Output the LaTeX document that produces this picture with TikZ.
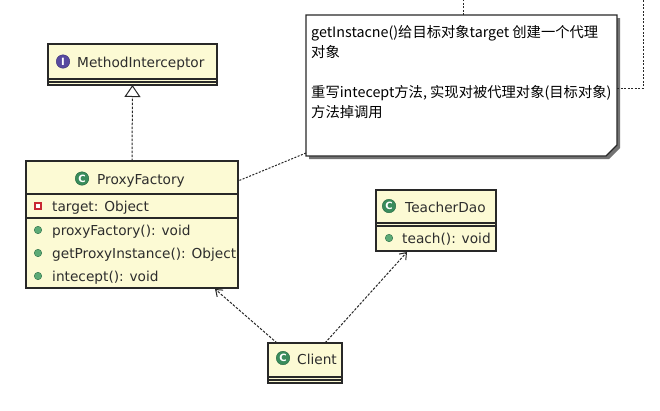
\documentclass[tikz,border=0pt]{standalone}
\usepackage{fontspec}
\setmainfont{DejaVu Sans}
\newfontfamily\cjk{Noto Sans CJK SC}
\usetikzlibrary{arrows.meta,calc}
\definecolor{clsfill}{RGB}{252,250,212}
\definecolor{linec}{RGB}{40,40,40}
\definecolor{textc}{RGB}{45,45,45}
\definecolor{iconG}{RGB}{58,140,92}
\definecolor{iconGd}{RGB}{30,100,60}
\definecolor{iconP}{RGB}{88,74,160}
\definecolor{iconPd}{RGB}{60,50,120}
\definecolor{dotG}{RGB}{92,170,118}
\definecolor{dotGd}{RGB}{40,110,70}
\definecolor{attrR}{RGB}{200,40,50}
\tikzset{
  clsbox/.style={draw=linec, fill=clsfill, line width=1.1pt, inner sep=0, outer sep=0, anchor=north west},
  ctext/.style={anchor=base west, inner sep=0, text=textc, font=\fontsize{13.7}{16}\selectfont},
  ntext/.style={anchor=base west, inner sep=0, text=black, font=\cjk\fontsize{14.3}{20}\selectfont},
  cicon/.style={circle, fill=iconG, draw=iconGd, text=white, inner sep=0, minimum size=13.5pt, font=\bfseries\fontsize{10}{10}\selectfont},
  iicon/.style={circle, fill=iconP, draw=iconPd, text=white, inner sep=0, minimum size=13.5pt, font=\bfseries\fontsize{10}{10}\selectfont},
  mdot/.style={circle, fill=dotG, draw=dotGd, minimum size=7.5pt, inner sep=0},
  attrbox/.style={rectangle, draw=attrR, fill=white, minimum size=6pt, line width=1.3pt, inner sep=0},
  sepline/.style={draw=linec, line width=1.1pt},
  deplink/.style={draw=linec, dash pattern=on 2.5pt off 1.5pt, line width=1pt, -{Straight Barb[length=6pt,width=9pt,line width=1pt]}},
  impllink/.style={draw=linec, dash pattern=on 2.5pt off 1.5pt, line width=1pt, -{Triangle[open, length=12pt, width=16pt, fill=white]}},
  notelink/.style={draw=linec, dash pattern=on 2pt off 1.5pt, line width=1pt}
}
\begin{document}
\begin{tikzpicture}[x=1pt,y=-1pt]
\useasboundingbox[fill=white] (0,0) rectangle (660,410);

% ---- MethodInterceptor ----
\node[clsbox, minimum width=169pt, minimum height=41pt] (mi) at (48,44) {};
\draw[sepline] (48,79) -- (217,79);
\draw[sepline] (48,82) -- (217,82);
\node[iicon] (miicon) at (63,61.5) {I};
\node[ctext] (miname) at (77,67) {MethodInterceptor};

% ---- ProxyFactory ----
\node[clsbox, minimum width=212pt, minimum height=127pt] (pf) at (26,161) {};
\draw[sepline] (26,194) -- (238,194);
\draw[sepline] (26,218) -- (238,218);
\node[cicon] (pficon) at (82,178.5) {C};
\node[ctext] (pfname) at (97,184.5) {ProxyFactory};
\node[attrbox] (pfa1) at (38,206) {};
\node[ctext] (pfa1t) at (52,211) {target: Object};
\node[mdot] (pfm1) at (38,230) {};
\node[ctext] (pfm1t) at (52,235) {proxyFactory(): void};
\node[mdot] (pfm2) at (38,253) {};
\node[ctext] (pfm2t) at (52,258) {getProxyInstance(): Object};
\node[mdot] (pfm3) at (38,276) {};
\node[ctext] (pfm3t) at (52,281) {intecept(): void};

% ---- TeacherDao ----
\node[clsbox, minimum width=120pt, minimum height=61pt] (td) at (376,190) {};
\draw[sepline] (376,223) -- (496,223);
\draw[sepline] (376,226) -- (496,226);
\node[cicon] (tdicon) at (389,206) {C};
\node[ctext] (tdname) at (405,212) {TeacherDao};
\node[mdot] (tdm1) at (389,238) {};
\node[ctext] (tdm1t) at (402,243) {teach(): void};

% ---- Client ----
\node[clsbox, minimum width=74pt, minimum height=40pt] (client) at (268,343) {};
\draw[sepline] (268,377) -- (342,377);
\draw[sepline] (268,380) -- (342,380);
\node[cicon] (clicon) at (283,358) {C};
\node[ctext] (clname) at (297,364) {Client};

% ---- Note ----
\node[minimum width=311pt, minimum height=141pt, inner sep=0, outer sep=0, anchor=north west] (note) at (306,15) {};
\fill[black!55] (309,18) -- (620,18) -- (620,148) -- (609,159) -- (309,159) -- cycle;
\filldraw[fill=white, draw=linec, line width=1.1pt] (306,15) -- (617,15) -- (617,145) -- (606,156) -- (306,156) -- cycle;
\node[ntext] (note1) at (311,37.5) {getInstacne()给目标对象target 创建一个代理};
\node[ntext] (note2) at (311,57.5) {对象};
\node[ntext] (note3) at (311,97.5) {重写intecept方法, 实现对被代理对象(目标对象)};
\node[ntext] (note4) at (311,117.5) {方法掉调用};

% ---- connectors ----
\draw[impllink] (pf.north) -- (mi.south);
\draw[notelink] ($(note.south west)+(0,-3)$) -- ($(pf.north east)+(0,20)$);
\draw[deplink] ($(client.north west)+(9,0)$) -- ($(pf.south east)+(-23,1)$);
\draw[deplink] ($(client.north west)+(57,0)$) -- ($(td.south west)+(31,1)$);
\coordinate (up1) at (463,0);
\coordinate (up2) at (643,0);
\draw[notelink] (note.north -| up1) -- (up1);
\draw[notelink] ($(note.north east)+(0,73)$) -| (up2);
\end{tikzpicture}
\end{document}
